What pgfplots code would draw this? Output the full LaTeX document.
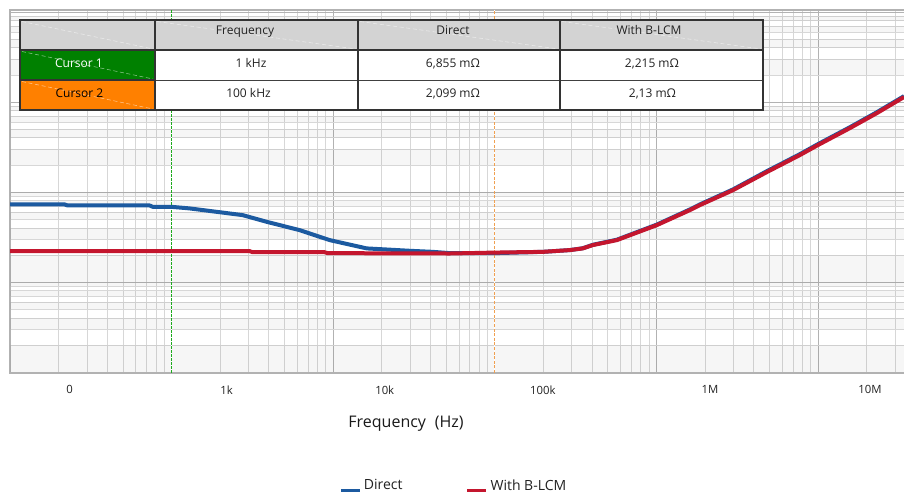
\documentclass[border=0pt]{standalone}
\usepackage{pgfplots}
\pgfplotsset{compat=1.18}
\usepackage{fontspec}
\setmainfont{Open Sans}
\definecolor{cblue}{RGB}{28,90,160}
\definecolor{cred}{RGB}{196,22,46}
\definecolor{cgreen}{RGB}{0,128,0}
\definecolor{corange}{RGB}{255,128,0}
\definecolor{curgreen}{RGB}{30,170,30}
\definecolor{curorange}{RGB}{240,160,80}
\definecolor{hdr}{RGB}{211,211,211}
\definecolor{gridmin}{RGB}{215,215,215}
\definecolor{gridmaj}{RGB}{178,178,178}
\definecolor{txt}{RGB}{34,34,34}

\pgfplotstableread{
f z
100 7.30
217.6 7.30
227 7.11
731 7.11
763 6.87
1000 6.86
1293 6.59
1899 6.04
2753 5.55
3875 4.68
6203 3.78
9513 2.93
16120 2.37
29770 2.23
41300 2.17
52650 2.10
100000 2.10
198300 2.17
291300 2.27
350600 2.38
404400 2.60
569500 2.96
1007000 4.36
1612000 6.42
1859000 7.30
2977000 10.7
4833000 17.1
7735000 26.4
10000000 34.1
15780000 52.6
23190000 77.3
34080000 116.3
}\direct

\pgfplotstableread{
f z
100 2.21
3041 2.21
3174 2.15
8859 2.15
9248 2.10
52650 2.08
100000 2.13
198300 2.17
291300 2.27
350600 2.37
404400 2.58
569500 2.93
1007000 4.30
1612000 6.31
1859000 7.17
2977000 10.5
4833000 16.7
7735000 25.8
10000000 33.3
15780000 51.4
23190000 75.5
34080000 113.6
}\blcm

\begin{document}
\begin{tikzpicture}
\useasboundingbox (0,0) rectangle (678pt,-369.75pt);
\begin{axis}[
  at={(7.5pt,-7.5pt)}, anchor=north west,
  scale only axis, width=672pt, height=272.25pt,
  xmode=log, ymode=log,
  xmin=100, xmax=3.506e7, ymin=0.098, ymax=1052,
  axis line style={draw=gridmaj, line width=0.9pt},
  xtick={100,1000,10000,100000,1000000,10000000},
  xticklabels={},
  minor xtick={200,300,400,500,600,700,800,900,
    2000,3000,4000,5000,6000,7000,8000,9000,
    20000,30000,40000,50000,60000,70000,80000,90000,
    200000,300000,400000,500000,600000,700000,800000,900000,
    2000000,3000000,4000000,5000000,6000000,7000000,8000000,9000000,
    20000000,30000000},
  ytick={0.1,1,10,100,1000},
  yticklabels={},
  minor ytick={0.2,0.3,0.4,0.5,0.6,0.7,0.8,0.9,2,3,4,5,6,7,8,9,
    20,30,40,50,60,70,80,90,200,300,400,500,600,700,800,900},
  grid=both,
  major grid style={draw=gridmaj, line width=0.6pt},
  minor grid style={draw=gridmin, line width=0.6pt},
  major tick length=0pt, minor tick length=0pt,
  extra x ticks={233.6,2190,20840,198300,2145000,20990000},
  extra x tick labels={0,1k,10k,100k,1M,10M},
  extra x tick style={grid=none, major tick length=0pt},
  xticklabel style={font=\fontsize{8.5}{10}\selectfont, text=txt, yshift=-6pt},
  xlabel={Frequency\hspace{0.55em}(Hz)},
  xlabel style={at={(axis description cs:0.442,0)}, anchor=base, yshift=-40.5pt,
    font=\fontsize{12}{14}\selectfont, text=black!90},
  legend columns=2,
  legend style={at={(axis description cs:0.3627,-0.2777)}, anchor=north west,
    draw=none, fill=none, font=\fontsize{10.5}{12}\selectfont, text=txt,
    /tikz/every even column/.append style={column sep=45.5pt}},
  legend image code/.code={\draw[#1, line width=2.25pt] (0pt,-3.75pt) -- (14.25pt,-3.75pt);},
  band/.style={fill=black, fill opacity=0.035, draw=none, forget plot},
]
\addplot[band] coordinates {(100,0.1) (3.506e7,0.1) (3.506e7,0.2) (100,0.2)} -- cycle;
\addplot[band] coordinates {(100,0.3) (3.506e7,0.3) (3.506e7,0.4) (100,0.4)} -- cycle;
\addplot[band] coordinates {(100,0.5) (3.506e7,0.5) (3.506e7,0.6) (100,0.6)} -- cycle;
\addplot[band] coordinates {(100,0.7) (3.506e7,0.7) (3.506e7,0.8) (100,0.8)} -- cycle;
\addplot[band] coordinates {(100,0.9) (3.506e7,0.9) (3.506e7,2) (100,2)} -- cycle;
\addplot[band] coordinates {(100,3) (3.506e7,3) (3.506e7,4) (100,4)} -- cycle;
\addplot[band] coordinates {(100,5) (3.506e7,5) (3.506e7,6) (100,6)} -- cycle;
\addplot[band] coordinates {(100,7) (3.506e7,7) (3.506e7,8) (100,8)} -- cycle;
\addplot[band] coordinates {(100,9) (3.506e7,9) (3.506e7,10) (100,10)} -- cycle;
\addplot[band] coordinates {(100,20) (3.506e7,20) (3.506e7,30) (100,30)} -- cycle;
\addplot[band] coordinates {(100,40) (3.506e7,40) (3.506e7,50) (100,50)} -- cycle;
\addplot[band] coordinates {(100,60) (3.506e7,60) (3.506e7,70) (100,70)} -- cycle;
\addplot[band] coordinates {(100,80) (3.506e7,80) (3.506e7,90) (100,90)} -- cycle;
\addplot[band] coordinates {(100,200) (3.506e7,200) (3.506e7,300) (100,300)} -- cycle;
\addplot[band] coordinates {(100,400) (3.506e7,400) (3.506e7,500) (100,500)} -- cycle;
\addplot[band] coordinates {(100,600) (3.506e7,600) (3.506e7,700) (100,700)} -- cycle;
\addplot[band] coordinates {(100,800) (3.506e7,800) (3.506e7,900) (100,900)} -- cycle;
\addplot[white, line width=1pt, forget plot]
  coordinates {(1000,0.098) (1000,1052)};
\addplot[curgreen, line width=1pt, dash pattern=on 2.25pt off 0.75pt, forget plot]
  coordinates {(1000,0.098) (1000,1052)};
\addplot[white, line width=0.8pt, forget plot]
  coordinates {(100000,0.098) (100000,1052)};
\addplot[curorange, line width=0.8pt, dash pattern=on 2.25pt off 1.2pt, forget plot]
  coordinates {(100000,0.098) (100000,1052)};
\addplot[cblue, line width=3pt, line join=round] table[x=f, y=z] {\direct};
\addlegendentry{Direct}
\addplot[cred, line width=3pt, line join=round] table[x=f, y=z] {\blcm};
\addlegendentry{With B-LCM}
\end{axis}

\begin{scope}[x=0.75pt, y=-0.75pt]
\fill[hdr] (20,20) rectangle (763,50);
\fill[white] (155,50) rectangle (763,110);
\fill[cgreen] (20,50) rectangle (155,80);
\fill[corange] (20,80) rectangle (155,110);
\foreach \a/\b/\c/\d in {20/20/155/50, 155/20/358/50, 358/20/560/50, 560/20/763/50, 20/50/155/80, 20/80/155/110}
  \draw[white, opacity=0.55, dash pattern=on 3pt off 2pt, line width=0.4pt] (\a+2,\b+1.5) -- (\c-2,\d-1);
\draw[black!75, line width=0.75pt] (155,80) -- (763,80);
\draw[black!80, line width=1.1pt] (20,80) -- (155,80);
\draw[black!80, line width=1.1pt] (20,50) -- (763,50);
\foreach \xx in {155,358,560} \draw[black!80, line width=1.1pt] (\xx,20) -- (\xx,110);
\draw[black!80, line width=1.3pt] (20,20) rectangle (763,110);
\begin{scope}[every node/.style={font=\fontsize{9}{11}\selectfont, text=txt, anchor=base, inner sep=0pt}]
\node at (245,34.5) {Frequency};
\node at (453,34.5) {Direct};
\node at (649,34.5) {With B-LCM};
\node[text=white] at (79,67) {Cursor 1};
\node at (251,67) {1 kHz};
\node at (453,67) {6,855 mΩ};
\node at (652,67) {2,215 mΩ};
\node[text=black] at (79.5,97) {Cursor 2};
\node at (248.5,97) {100 kHz};
\node at (453,97) {2,099 mΩ};
\node at (652.5,97) {2,13 mΩ};
\end{scope}
\end{scope}
\end{tikzpicture}
\end{document}
